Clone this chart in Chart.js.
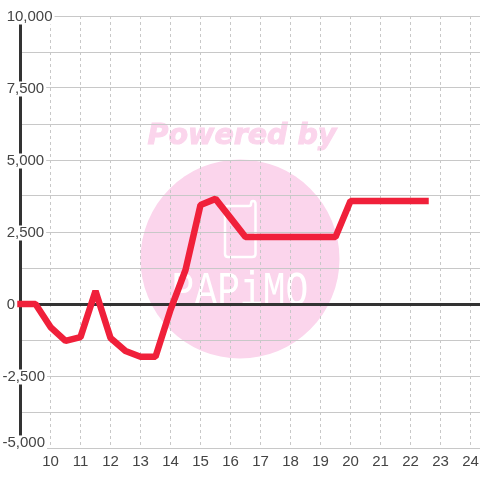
<!DOCTYPE html>
<html>
<head>
<meta charset="utf-8">
<style>
  html, body { margin: 0; padding: 0; background: #fff; }
  canvas { display: block; }
</style>
<script src="https://cdn.jsdelivr.net/npm/chart.js@4"></script>
</head>
<body>
<canvas id="chart" width="480" height="480"></canvas>
<script>
const hours = [9, 9.5, 10, 10.5, 11, 11.5, 12, 12.5, 13, 13.5, 14, 14.5, 15, 15.5, 16, 16.5, 17, 17.5, 18, 18.5, 19, 19.5, 20, 20.5, 21, 21.5, 22, 22.5];
const values = [0, 0, -800, -1280, -1150, 450, -1180, -1630, -1830, -1830, -200, 1180, 3440, 3650, 2990, 2330, 2330, 2330, 2330, 2330, 2330, 2330, 3580, 3580, 3580, 3580, 3580, 3580];
const xTicks = [10, 11, 12, 13, 14, 15, 16, 17, 18, 19, 20, 21, 22, 23, 24];
// -4790 only carries the bottom label, lifted off the plot edge like the original
const yTicks = [10000, 8750, 7500, 6250, 5000, 3750, 2500, 1250, 0, -1250, -2500, -3750, -4790, -5000];
const yTickLabels = [" 10,000", "", " 7,500", "", " 5,000", "", " 2,500", "", " 0", "", "-2,500", "", "-5,000", ""];
const labelOnlyTick = -4790;

// Watermark sits behind the grid
const watermark = {
  id: "watermark",
  beforeDraw(chart) {
    const ctx = chart.ctx;
    ctx.save();
    ctx.fillStyle = "#fbd5ec";
    ctx.beginPath();
    ctx.arc(240, 259, 99.5, 0, Math.PI * 2);
    ctx.fill();

    ctx.font = "italic bold 28.5px 'DejaVu Sans'";
    ctx.textAlign = "center";
    ctx.textBaseline = "alphabetic";
    ctx.strokeStyle = "#fbd5ec";
    ctx.lineWidth = 1;
    ctx.fillText("Powered by", 242, 144);
    ctx.strokeText("Powered by", 242, 144);

    // phone outline
    ctx.strokeStyle = "#fff";
    ctx.lineWidth = 2.5;
    ctx.lineJoin = "round";
    ctx.beginPath();
    ctx.moveTo(228, 206);
    ctx.lineTo(249, 206);
    ctx.quadraticCurveTo(251, 206, 251, 204);
    ctx.quadraticCurveTo(251, 201, 253, 201);
    ctx.quadraticCurveTo(255.5, 201, 255.5, 204);
    ctx.lineTo(255.5, 254);
    ctx.quadraticCurveTo(255.5, 257, 252, 257);
    ctx.lineTo(228, 257);
    ctx.quadraticCurveTo(225, 257, 225, 254);
    ctx.lineTo(225, 209);
    ctx.quadraticCurveTo(225, 206, 228, 206);
    ctx.stroke();

    ctx.fillStyle = "#fff";
    ctx.translate(240, 305);
    ctx.scale(1, 1.25);
    ctx.font = "38px 'Liberation Mono'";
    ctx.fillText("PAPiMO", 0, 0);
    ctx.restore();
  }
};

new Chart(document.getElementById("chart"), {
  type: "line",
  data: {
    labels: hours,
    datasets: [
      {
        data: values,
        borderColor: "#f0203a",
        borderWidth: 6.5,
        borderCapStyle: "square",
        borderJoinStyle: "bevel",
        pointRadius: 0,
        tension: 0,
        fill: false,
        clip: false,
      },
    ],
  },
  options: {
    responsive: false,
    animation: false,
    layout: { padding: { top: 16, left: 0, right: 0, bottom: 0 } },
    plugins: { legend: { display: false }, tooltip: { enabled: false } },
    scales: {
      x: {
        type: "linear",
        min: 9,
        max: 24.3167,
        afterFit(scale) {
          scale.height = 32;
          scale.paddingLeft = 0;
          scale.paddingRight = 0;
        },
        afterBuildTicks(scale) { scale.ticks = xTicks.map(v => ({ value: v })); },
        border: { display: false, dash: [3, 3] },
        grid: {
          color: "#c8c8c8",
          lineWidth: 1,
          drawTicks: false,
        },
        ticks: {
          autoSkip: false,
          maxRotation: 0,
          padding: 5,
          color: "#444",
          font: { family: "'Liberation Sans'", size: 15 },
          callback: v => String(v),
        },
      },
      y: {
        min: -5000,
        max: 10000,
        afterFit(scale) {
          scale.width = 20.5;
          scale.paddingTop = 0;
          scale.paddingBottom = 0;
        },
        afterBuildTicks(scale) { scale.ticks = yTicks.map(v => ({ value: v })); },
        border: { display: true, color: "#333", width: 3 },
        grid: {
          color: ctx => {
            if (!ctx.tick) return "#c8c8c8";
            if (ctx.tick.value === labelOnlyTick) return "rgba(0,0,0,0)";
            return ctx.tick.value === 0 ? "#333" : "#c8c8c8";
          },
          lineWidth: ctx => (ctx.tick && ctx.tick.value === 0 ? 3 : 1),
          drawTicks: false,
        },
        ticks: {
          autoSkip: false,
          mirror: true,
          padding: -18,
          labelOffset: 1,
          color: "#444",
          font: { family: "'Liberation Sans'", size: 15, lineHeight: 1 },
          showLabelBackdrop: true,
          backdropColor: ctx => (yTickLabels[ctx.index] ? "#fff" : "rgba(0,0,0,0)"),
          backdropPadding: { left: 0, right: 2, top: 0, bottom: 0 },
          callback: (v, i) => yTickLabels[i],
        },
      },
    },
  },
  plugins: [watermark],
});
</script>
</body>
</html>
